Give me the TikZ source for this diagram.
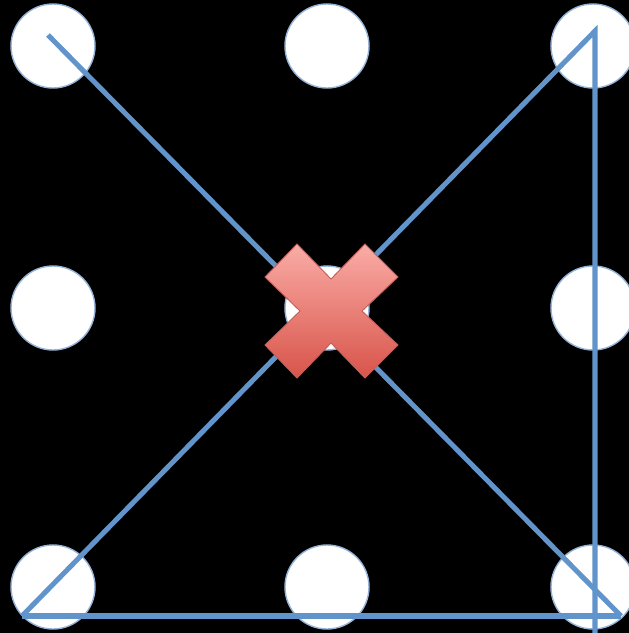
\documentclass[tikz,border=0pt]{standalone}
\usepackage{tikz}
\usetikzlibrary{positioning}
\usepackage{xcolor}
\definecolor{pathblue}{RGB}{98,148,204}
\definecolor{ringblue}{RGB}{149,179,215}
\definecolor{crosstop}{RGB}{250,172,166}
\definecolor{crossbottom}{RGB}{216,84,74}
\definecolor{crossedge}{RGB}{196,96,90}

\begin{document}
\begin{tikzpicture}[
    x=0.03cm, y=-0.03cm,
    dot/.style={circle, draw=ringblue, line width=1.2pt, fill=white,
                inner sep=0pt, minimum size=2.52cm},
    stroke/.style={draw=pathblue, line width=4.3pt, line cap=butt, line join=miter}
]

\fill[black] (0,0) rectangle (629,633);
\useasboundingbox (0,0) rectangle (629,633);

% the nine dots
\node[dot] (d11) at (53,46)  {};
\node[dot] (d12) at (327,46) {};
\node[dot] (d13) at (593,46) {};
\node[dot] (d21) at (53,308)  {};
\node[dot] (d22) at (327,308) {};
\node[dot] (d23) at (593,308) {};
\node[dot] (d31) at (53,587)  {};
\node[dot] (d32) at (327,587) {};
\node[dot] (d33) at (593,587) {};

% end points of the attempt
\coordinate (start) at (48,35);
\coordinate (corner) at (621,616);
\coordinate (low) at (22,616);
\coordinate (apex) at (595,31);
\coordinate (exit) at (595,633);

\draw[stroke] (start) -- (corner);
\draw[stroke] (low) -- (corner);
\draw[stroke] (low) -- (apex) -- (exit);

% the red cross
\begin{scope}[shift={(331,311)}]
\shade[top color=crosstop, bottom color=crossbottom, draw=crossedge, line width=0.8pt]
    (-66,-34) -- (-34,-67) -- (0,-32) -- (34,-67) -- (67,-34) -- (31,0)
    -- (67,34) -- (34,67) -- (0,32) -- (-34,67) -- (-66,34) -- (-31,0) -- cycle;
\end{scope}

\end{tikzpicture}
\end{document}
